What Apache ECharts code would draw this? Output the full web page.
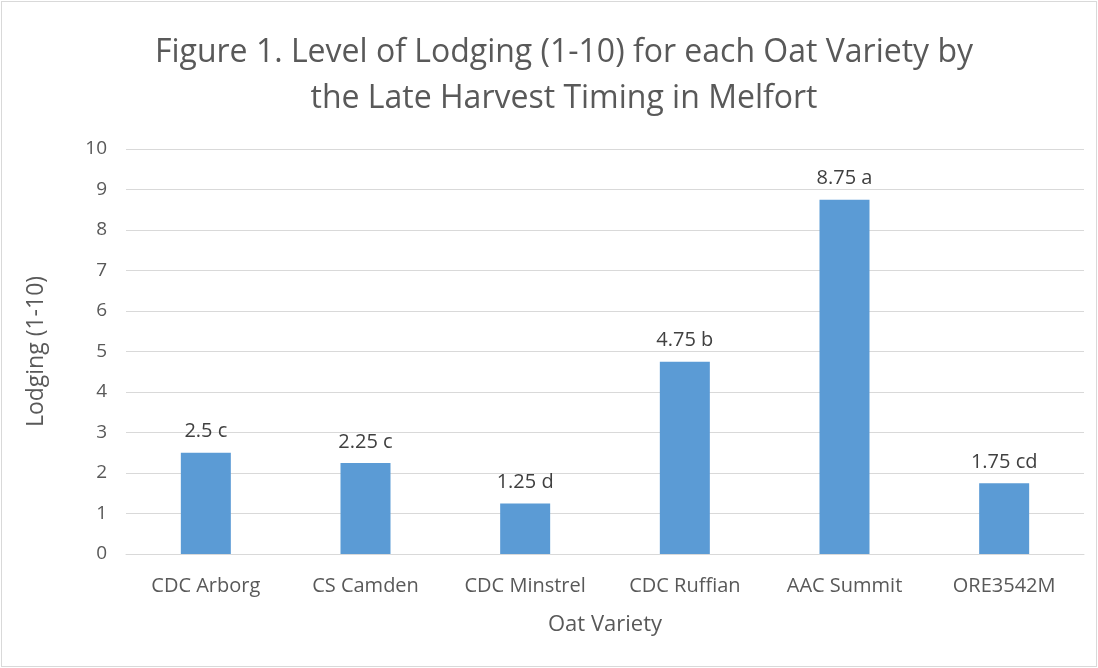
<!DOCTYPE html>
<html>
<head>
    <meta charset="utf-8">
    <title>Figure 1. Level of Lodging</title>
    <script src="https://cdn.jsdelivr.net/npm/echarts@6/dist/echarts.min.js"></script>
    <style>
        html, body { margin: 0; padding: 0; background: #fff; }
        #chart { width: 1094px; height: 664px; border: 1px solid #d9d9d9; margin: 1px; }
    </style>
</head>
<body>
    <div id="chart"></div>
    <script>
        // data
        var varieties = ['CDC Arborg', 'CS Camden', 'CDC Minstrel', 'CDC Ruffian', 'AAC Summit', 'ORE3542M'];
        var lodging = [2.5, 2.25, 1.25, 4.75, 8.75, 1.75];
        var letters = ['c', 'c', 'd', 'b', 'a', 'cd'];

        var txt = '#595959';
        var font = 'Open Sans';

        var myChart = echarts.init(document.getElementById('chart'));
        var option = {
            animation: false,
            textStyle: { fontFamily: font },
            title: {
                text: 'Figure 1. Level of Lodging (1-10) for each Oat Variety by\nthe Late Harvest Timing in Melfort',
                left: 557,
                top: 23,
                textAlign: 'center',
                textStyle: { fontFamily: font, fontSize: 32, fontWeight: 'normal', color: txt, lineHeight: 46 }
            },
            grid: { left: 124, right: 12, top: 147, bottom: 112 },
            xAxis: {
                type: 'category',
                data: varieties,
                name: 'Oat Variety',
                nameLocation: 'middle',
                nameGap: 60,
                nameTextStyle: { fontSize: 22, color: txt },
                axisLine: { lineStyle: { color: '#d9d9d9' } },
                axisTick: { show: false },
                axisLabel: { fontSize: 20, color: txt, margin: 22 }
            },
            yAxis: {
                type: 'value',
                min: 0,
                max: 10,
                interval: 1,
                name: 'Lodging (1-10)',
                nameLocation: 'middle',
                nameGap: 78,
                nameTextStyle: { fontSize: 23, color: txt },
                axisLine: { show: false },
                axisTick: { show: false },
                axisLabel: { fontSize: 19, color: txt, margin: 19 },
                splitLine: { lineStyle: { color: '#d9d9d9' } }
            },
            series: [{
                name: 'Lodging',
                type: 'bar',
                barWidth: 50,
                data: lodging,
                itemStyle: { color: '#5b9bd5' },
                label: {
                    show: true,
                    position: 'top',
                    distance: 11,
                    fontSize: 20,
                    color: '#404040',
                    formatter: function (p) { return p.value + ' ' + letters[p.dataIndex]; }
                }
            }]
        };
        myChart.setOption(option);
    </script>
</body>
</html>
